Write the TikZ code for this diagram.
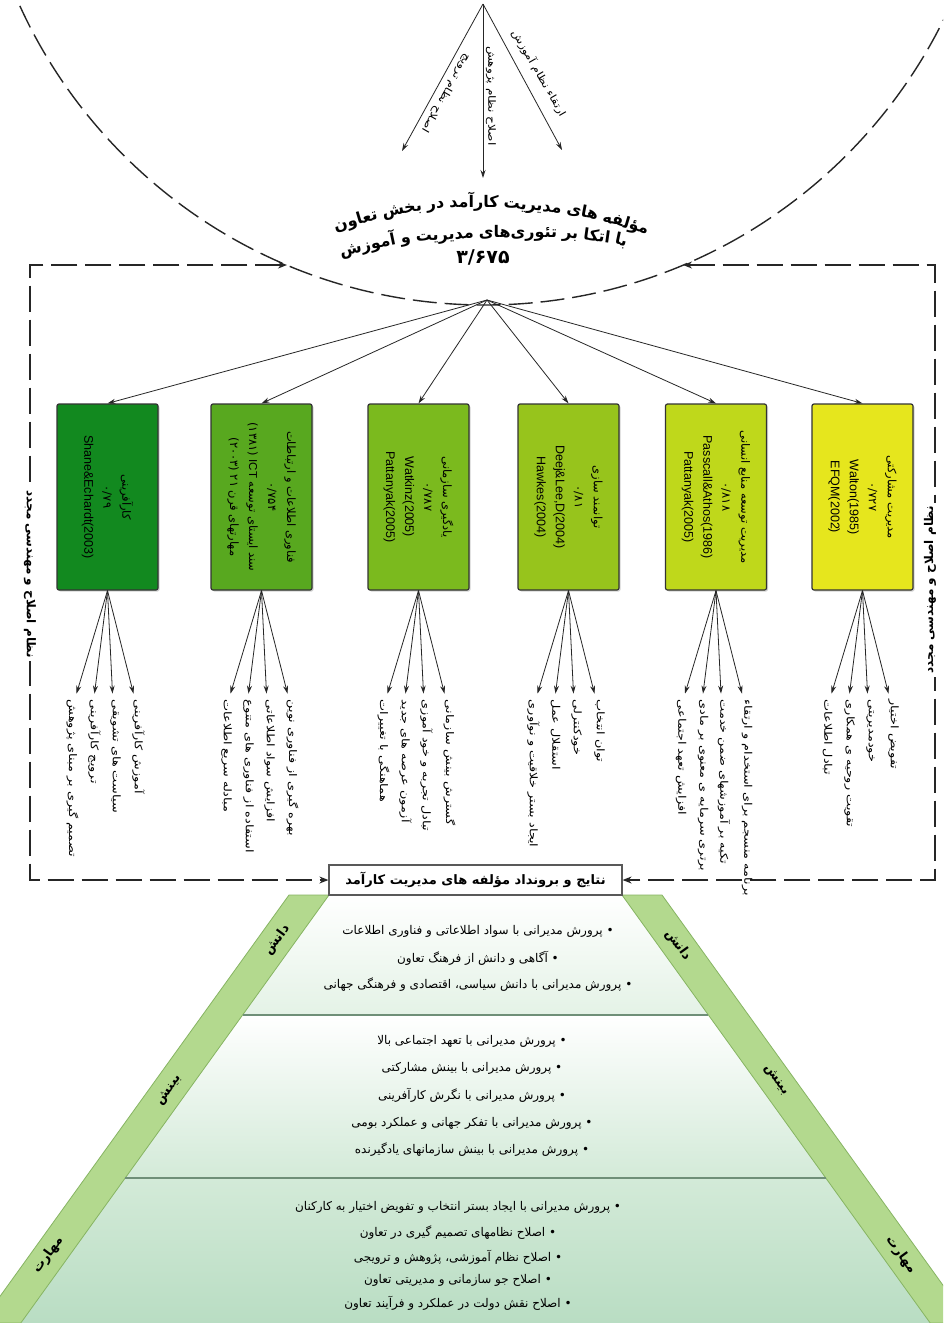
\documentclass[tikz,border=0pt]{standalone}
\usepackage{fontspec}
\setmainfont{Liberation Sans}
\newfontfamily\fa[Script=Arabic]{DejaVu Sans}
\newfontfamily\fan[Script=Arabic,FakeStretch=1.22]{DejaVu Sans}
\newfontfamily\lat{Liberation Sans}
\TeXXeTstate=1
\usetikzlibrary{arrows.meta,shadows}
\newcommand\pr[1]{\beginR#1\endR}
\definecolor{c1}{HTML}{12891F}
\definecolor{c2}{HTML}{58A81F}
\definecolor{c3}{HTML}{7BBA1E}
\definecolor{c4}{HTML}{97C41C}
\definecolor{c5}{HTML}{BFD81B}
\definecolor{c6}{HTML}{E6E61D}
\definecolor{strip}{HTML}{B3D98E}
\definecolor{stripline}{HTML}{86B462}
\definecolor{secA}{HTML}{E4F2E6}
\definecolor{secB}{HTML}{D3EAD8}
\definecolor{secC}{HTML}{B9DDC3}
\definecolor{divline}{HTML}{6F8F78}
\tikzset{
  frame/.style={line width=1.3pt, draw=black!85, dash pattern=on 26pt off 8pt},
  arr/.style={-{Stealth[length=8pt,width=5pt]}, line width=0.8pt, draw=black!85},
  box/.style={draw=black!80, line width=1.2pt, rounded corners=2pt, minimum width=101pt, minimum height=186pt, inner sep=0pt,
    drop shadow={opacity=0.35, shadow xshift=1.5pt, shadow yshift=-1.5pt}},
  boxtxt/.style={rotate=-90, align=center, font=\fa\fontsize{11.5}{19}\selectfont, inner sep=0pt},
  item/.style={rotate=-90, anchor=west, inner sep=1pt, font=\fan\fontsize{10.5}{12}\selectfont},
  tw/.style={font=\fa\bfseries\fontsize{16}{17}\selectfont, inner xsep=2.4pt, inner ysep=0pt, text height=12pt, text depth=5pt},
  toplab/.style={font=\fan\fontsize{10}{11}\selectfont, inner sep=0pt},
  sidelab/.style={fill=white, font=\fa\bfseries\fontsize{12}{13}\selectfont, inner sep=3pt},
  resbox/.style={draw=black!65, line width=1.2pt, fill=white, minimum width=293pt, minimum height=30pt, inner sep=0pt,
    font=\fa\bfseries\fontsize{13}{14}\selectfont},
  outtxt/.style={font=\fa\fontsize{12}{13}\selectfont, inner sep=0pt},
  striplab/.style={font=\fa\bfseries\fontsize{13}{13}\selectfont, inner sep=0pt}
}
\newcommand\itemsfor[5]{%
  \path (#1.south) ++(-31,103) coordinate (#1a1);
  \path (#1.south) ++(-13,103) coordinate (#1a2);
  \path (#1.south) ++(5,103) coordinate (#1a3);
  \path (#1.south) ++(26,103) coordinate (#1a4);
  \draw[arr] (#1.south) -- (#1a1);
  \draw[arr] (#1.south) -- (#1a2);
  \draw[arr] (#1.south) -- (#1a3);
  \draw[arr] (#1.south) -- (#1a4);
  \node[item] (#1t1) at ([xshift=-4pt,yshift=-5pt]#1a1) {#2};
  \node[item] (#1t2) at ([yshift=-5pt]#1a2) {#3};
  \node[item] (#1t3) at ([xshift=3pt,yshift=-5pt]#1a3) {#4};
  \node[item] (#1t4) at ([xshift=5pt,yshift=-5pt]#1a4) {#5};
}
\begin{document}
\begin{tikzpicture}[x=1pt,y=-1pt]
\useasboundingbox (0,0) rectangle (943,1323);
\fill[white] (0,0) rectangle (943,1323);
\clip (0,0) rectangle (943,1323);

% ---------- top arc ----------
\draw[line width=1.4pt, draw=black!85, dash pattern=on 24pt off 8pt] (485,-206) circle[radius=511pt];

% apex arrows
\coordinate (apex) at (483,4);
\coordinate (e1) at (402,151);
\coordinate (e2) at (483,178);
\coordinate (e3) at (562,150);
\draw[arr] (apex) -- (e1);
\draw[arr] (apex) -- (e2);
\draw[arr] (apex) -- (e3);
\node[toplab, rotate=-120] (l1) at (446,93) {\pr{اصلاح نظام ترویج}};
\node[toplab, rotate=-90] (l2) at (491,96) {\pr{اصلاح نظام پژوهش}};
\node[toplab, rotate=-60] (l3) at (539,73) {\pr{ارتقاء نظام آموزش}};

% ---------- title (arched) ----------
\node[tw] (a4) at (474,204) {\pr{کارآمد}};
\node[tw, anchor=west, rotate=-5.5] (a3) at (a4.east) {\pr{مدیریت}};
\node[tw, anchor=west, rotate=-11] (a2) at (a3.east) {\pr{های}};
\node[tw, anchor=west, rotate=-16.5] (a1) at (a2.east) {\pr{مؤلفه}};
\node[tw, anchor=east, rotate=5.5] (a5) at (a4.west) {\pr{در}};
\node[tw, anchor=east, rotate=11] (a6) at (a5.west) {\pr{بخش}};
\node[tw, anchor=east, rotate=16.5] (a7) at (a6.west) {\pr{تعاون}};

\node[tw] (w4) at (518,234) {\pr{تئوری‌های}};
\node[tw, anchor=west, rotate=-4] (w3) at (w4.east) {\pr{بر}};
\node[tw, anchor=west, rotate=-8] (w2) at (w3.east) {\pr{اتکا}};
\node[tw, anchor=west, rotate=-12] (w1) at (w2.east) {\pr{با}};
\node[tw, anchor=east, rotate=4] (w5) at (w4.west) {\pr{مدیریت}};
\node[tw, anchor=east, rotate=8] (w6) at (w5.west) {\pr{و}};
\node[tw, anchor=east, rotate=12] (w7) at (w6.west) {\pr{آموزش}};

\node[font=\fa\bfseries\fontsize{19}{19}\selectfont, inner sep=0pt] (num) at (483,257) {۳/۶۷۵};

% ---------- frame ----------
\coordinate (arcL) at (287,265);
\coordinate (arcR) at (683,265);
\coordinate (flt) at (30,265);
\coordinate (flb) at (30,880);
\coordinate (frt) at (935,265);
\coordinate (frb) at (935,880);
\node[resbox] (res) at (475.5,880) {\pr{نتایج و برونداد مؤلفه های مدیریت کارآمد}};
\draw[frame, {Stealth[length=9pt,width=7pt]}-{Stealth[length=9pt,width=7pt]}] (arcL) -- (flt) -- (flb) -- (res.west);
\draw[frame, {Stealth[length=9pt,width=7pt]}-{Stealth[length=9pt,width=7pt]}] (arcR) -- (frt) -- (frb) -- (res.east);
\node[sidelab, rotate=-90] (sl) at (30,574) {\pr{نظام اصلاح و مهندسی مجدد}};
\node[sidelab, rotate=90] (sr) at (930,590) {\pr{نظام اصلاح و مهندسی مجدد}};

% ---------- boxes ----------
\coordinate (fo) at (487,300);
\node[box, fill=c1] (b1) at (107.5,497) {};
\node[box, fill=c2] (b2) at (261.5,497) {};
\node[box, fill=c3] (b3) at (418.5,497) {};
\node[box, fill=c4] (b4) at (568.5,497) {};
\node[box, fill=c5] (b5) at (716,497) {};
\node[box, fill=c6] (b6) at (862.5,497) {};
\foreach \b in {b1,b2,b3,b4,b5,b6} \draw[arr] (fo) -- (\b.north);

\node[boxtxt] (bt1) at (b1.center) {\pr{کارآفرینی}\\ ۰/۷۹\\ {\lat\fontsize{12.5}{19}\selectfont Shane\&Echardt(2003)}};
\node[boxtxt] (bt2) at (b2.center) {\pr{فناوری اطلاعات و ارتباطات}\\ ۰/۷۵۴\\ \pr{سند ایستای توسعه \beginL{\lat ICT}\endL{} \beginL(۱۳۸۱)\endL}\\ \pr{مهارتهای قرن \beginL۲۱\endL{} \beginL(۲۰۰۳)\endL}};
\node[boxtxt] (bt3) at (b3.center) {\pr{یادگیری سازمانی}\\ ۰/۷۸۷\\ {\lat\fontsize{12.5}{19}\selectfont Watkinz(2005)}\\ {\lat\fontsize{12.5}{19}\selectfont Pattanyak(2005)}};
\node[boxtxt] (bt4) at (b4.center) {\pr{توانمند سازی}\\ ۰/۸۱\\ {\lat\fontsize{12.5}{19}\selectfont Deej\&Lee,D(2004)}\\ {\lat\fontsize{12.5}{19}\selectfont Hawkes(2004)}};
\node[boxtxt] (bt5) at (b5.center) {\pr{مدیریت توسعه منابع انسانی}\\ ۰/۸۱۸\\ {\lat\fontsize{12.5}{19}\selectfont Passcall\&Athos(1986)}\\ {\lat\fontsize{12.5}{19}\selectfont Pattanyak(2005)}};
\node[boxtxt] (bt6) at (b6.center) {\pr{مدیریت مشارکتی}\\ ۰/۷۲۷\\ {\lat\fontsize{12.5}{19}\selectfont Walton(1985)}\\ {\lat\fontsize{12.5}{19}\selectfont EFQM(2002)}};

\itemsfor{b1}{\pr{تصمیم گیری بر مبنای پژوهش}}{\pr{ترویج کارآفرینی}}{\pr{سیاست های تشویقی}}{\pr{آموزش کارآفرینی}}
\itemsfor{b2}{\pr{مبادله سریع اطلاعات}}{\pr{استفاده از فناوری های متنوع}}{\pr{افزایش سواد اطلاعاتی}}{\pr{بهره گیری از فناوری نوین}}
\itemsfor{b3}{\pr{هماهنگی با تغییرات}}{\pr{آزمون عرصه های جدید}}{\pr{تبادل تجربه و خود آموزی}}{\pr{گسترش بینش سازمانی}}
\itemsfor{b4}{\pr{ایجاد بستر خلاقیت و نوآوری}}{\pr{استقلال عمل}}{\pr{خودکنترلی}}{\pr{توان انتخاب}}
\itemsfor{b5}{\pr{افزایش تعهد اجتماعی}}{\pr{برتری سرمایه ی معنوی بر مادی}}{\pr{تکیه بر آموزشهای ضمن خدمت}}{\pr{برنامه منسجم برای استخدام و ارتقاء}}
\itemsfor{b6}{\pr{تبادل اطلاعات}}{\pr{تقویت روحیه ی همکاری}}{\pr{خودمدیریتی}}{\pr{تفویض اختیار}}

% ---------- trapezoid ----------
\shade[top color=white, bottom color=secA] (329,895) -- (622,895) -- (708.4,1015) -- (242.6,1015) -- cycle;
\shade[top color=white, bottom color=secB] (242.6,1015) -- (708.4,1015) -- (825.8,1178) -- (125.2,1178) -- cycle;
\shade[top color=secB, bottom color=secC] (125.2,1178) -- (825.8,1178) -- (930.2,1323) -- (20.8,1323) -- cycle;
\filldraw[fill=strip, draw=stripline, line width=0.8pt] (289,895) -- (329,895) -- (20.8,1323) -- (-19.2,1323) -- cycle;
\filldraw[fill=strip, draw=stripline, line width=0.8pt] (622,895) -- (662,895) -- (970.2,1323) -- (930.2,1323) -- cycle;
\draw[divline, line width=2pt] (242.6,1015) -- (708.4,1015);
\draw[divline, line width=2pt] (125.2,1178) -- (825.8,1178);
\node[resbox] (res2) at (res.center) {\pr{نتایج و برونداد مؤلفه های مدیریت کارآمد}};

\node[striplab, rotate=54] (sl1) at (277,940) {\pr{دانش}};
\node[striplab, rotate=54] (sl2) at (169,1090) {\pr{بینش}};
\node[striplab, rotate=54] (sl3) at (48,1255) {\pr{مهارت}};
\node[striplab, rotate=-54] (sr1) at (678,945) {\pr{دانش}};
\node[striplab, rotate=-54] (sr2) at (776,1080) {\pr{بینش}};
\node[striplab, rotate=-54] (sr3) at (901,1255) {\pr{مهارت}};

\node[outtxt] (o1) at (478,931) {\pr{• پرورش مدیرانی با سواد اطلاعاتی و فناوری اطلاعات}};
\node[outtxt] (o2) at (478,958) {\pr{• آگاهی و دانش از فرهنگ تعاون}};
\node[outtxt] (o3) at (478,985) {\pr{• پرورش مدیرانی با دانش سیاسی، اقتصادی و فرهنگی جهانی}};
\node[outtxt] (o4) at (472,1041) {\pr{• پرورش مدیرانی با تعهد اجتماعی بالا}};
\node[outtxt] (o5) at (472,1068) {\pr{• پرورش مدیرانی با بینش مشارکتی}};
\node[outtxt] (o6) at (472,1095) {\pr{• پرورش مدیرانی با نگرش کارآفرینی}};
\node[outtxt] (o7) at (472,1123) {\pr{• پرورش مدیرانی با تفکر جهانی و عملکرد بومی}};
\node[outtxt] (o8) at (472,1150) {\pr{• پرورش مدیرانی با بینش سازمانهای یادگیرنده}};
\node[outtxt] (o9) at (458,1207) {\pr{• پرورش مدیرانی با ایجاد بستر انتخاب و تفویض اختیار به کارکنان}};
\node[outtxt] (o10) at (458,1233) {\pr{• اصلاح نظامهای تصمیم گیری در تعاون}};
\node[outtxt] (o11) at (458,1257) {\pr{• اصلاح نظام آموزشی، پژوهش و ترویجی}};
\node[outtxt] (o12) at (458,1280) {\pr{• اصلاح جو سازمانی و مدیریتی تعاون}};
\node[outtxt] (o13) at (458,1303) {\pr{• اصلاح نقش دولت در عملکرد و فرآیند تعاون}};
\end{tikzpicture}
\end{document}
